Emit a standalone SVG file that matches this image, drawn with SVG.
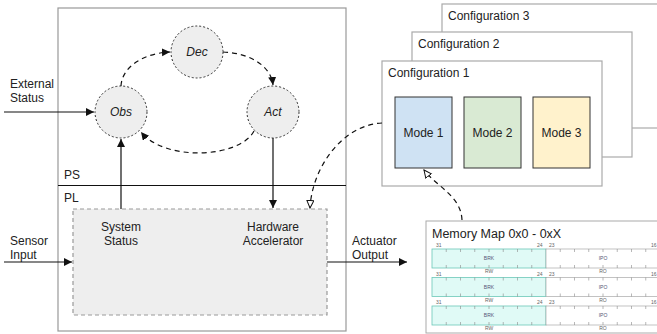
<svg xmlns="http://www.w3.org/2000/svg" width="657" height="334" viewBox="0 0 657 334">
<defs>
<style>
text{font-family:"Liberation Sans",Arial,sans-serif;font-size:12px;fill:#222}
.it{font-style:italic}
.mid{text-anchor:middle}
.frame{fill:#fff;stroke:#999;stroke-width:1.2}
.cfg{fill:#fff;stroke:#aaa;stroke-width:1.2}
.mode{stroke:#333;stroke-width:1}
.circ{fill:#eee;stroke:#333;stroke-width:1;stroke-dasharray:2 2}
.solid{fill:none;stroke:#111;stroke-width:1.2}
.dash{fill:none;stroke:#111;stroke-width:1.2;stroke-dasharray:5 4}
.tiny{font-size:5px;fill:#666}
.fld{font-size:5px;fill:#557}
.tick{stroke:#888;stroke-width:0.6}
</style>
<marker id="af" markerUnits="userSpaceOnUse" markerWidth="10" markerHeight="10" refX="8" refY="4" orient="auto"><path d="M0,0 L8,4 L0,8 z" fill="#111"/></marker>
<marker id="ao" markerUnits="userSpaceOnUse" markerWidth="10" markerHeight="10" refX="8" refY="4" orient="auto"><path d="M0.5,0.5 L8,4 L0.5,7.5 z" fill="#fff" stroke="#111" stroke-width="1"/></marker>
</defs>

<g id="main-frame">
<rect class="frame" x="58" y="8" width="288" height="323"/>
<line x1="58" y1="185.5" x2="346" y2="185.5" stroke="#111" stroke-width="1.2"/>
<text x="64" y="179">PS</text>
<text x="64" y="202">PL</text>
</g>

<g id="pl-block">
<rect x="73" y="209" width="254" height="106" fill="#eee" stroke="#999" stroke-width="1.2" stroke-dasharray="4 3"/>
<text class="mid" x="121" y="231">System</text>
<text class="mid" x="121" y="245">Status</text>
<text class="mid" x="273" y="231">Hardware</text>
<text class="mid" x="273" y="245">Accelerator</text>
</g>

<g id="cfg3"><rect class="cfg" x="442" y="4" width="220" height="124"/><text x="448" y="20">Configuration 3</text></g>
<g id="cfg2"><rect class="cfg" x="412" y="32" width="220" height="125"/><text x="418" y="48">Configuration 2</text></g>
<g id="cfg1"><rect class="cfg" x="382" y="61" width="220" height="125"/><text x="388" y="77">Configuration 1</text></g>
<g id="mode1"><rect class="mode" x="395" y="97" width="57" height="71" fill="#cfe2f3"/><text class="mid" x="423.5" y="137">Mode 1</text></g>
<g id="mode2"><rect class="mode" x="464" y="97" width="57" height="71" fill="#d9ead3"/><text class="mid" x="492.5" y="137">Mode 2</text></g>
<g id="mode3"><rect class="mode" x="533" y="97" width="57" height="71" fill="#fff2cc"/><text class="mid" x="561.5" y="137">Mode 3</text></g>

<g id="obs"><circle class="circ" cx="121" cy="112" r="26"/><text class="mid it" x="121" y="116">Obs</text></g>
<g id="dec"><circle class="circ" cx="197" cy="52" r="26"/><text class="mid it" x="197" y="56">Dec</text></g>
<g id="act"><circle class="circ" cx="273" cy="112" r="26"/><text class="mid it" x="273" y="116">Act</text></g>

<g id="labels">
<text x="10" y="88">External</text>
<text x="10" y="102">Status</text>
<text x="10" y="245">Sensor</text>
<text x="10" y="259">Input</text>
<text x="352" y="245">Actuator</text>
<text x="352" y="259">Output</text>
</g>

<g id="memory-map">
<rect x="426" y="221" width="240" height="112" fill="#fff" stroke="#aaa" stroke-width="1"/>
<text x="432" y="238" style="font-size:12.5px">Memory Map 0x0 - 0xX</text>
<g id="reg1" transform="translate(0,0)">
<text class="tiny" x="436" y="247">31</text><text class="tiny" x="537" y="247">24</text><text class="tiny" x="549" y="247">23</text><text class="tiny" x="651" y="247">16</text>
<rect x="432" y="249" width="114" height="19" fill="#e0faf6" stroke="#6cc7b8" stroke-width="0.8"/>
<rect x="546" y="249" width="114" height="19" fill="#fff" stroke="#999" stroke-width="0.6"/>
<path class="tick" d="M446.25,249v3M460.5,249v3M474.75,249v3M489,249v3M503.25,249v3M517.5,249v3M531.75,249v3M560.25,249v3M574.5,249v3M588.75,249v3M603,249v3M617.25,249v3M631.5,249v3M645.75,249v3M446.25,268v-3M460.5,268v-3M474.75,268v-3M489,268v-3M503.25,268v-3M517.5,268v-3M531.75,268v-3M560.25,268v-3M574.5,268v-3M588.75,268v-3M603,268v-3M617.25,268v-3M631.5,268v-3M645.75,268v-3"/>
<text class="fld mid" x="489" y="260">BRK</text><text class="fld mid" x="603" y="260">IPO</text>
<text class="tiny mid" x="489" y="273">RW</text><text class="tiny mid" x="603" y="273">RO</text>
</g>
<g id="reg2" transform="translate(0,28.5)">
<text class="tiny" x="436" y="247">31</text><text class="tiny" x="537" y="247">24</text><text class="tiny" x="549" y="247">23</text><text class="tiny" x="651" y="247">16</text>
<rect x="432" y="249" width="114" height="19" fill="#e0faf6" stroke="#6cc7b8" stroke-width="0.8"/>
<rect x="546" y="249" width="114" height="19" fill="#fff" stroke="#999" stroke-width="0.6"/>
<path class="tick" d="M446.25,249v3M460.5,249v3M474.75,249v3M489,249v3M503.25,249v3M517.5,249v3M531.75,249v3M560.25,249v3M574.5,249v3M588.75,249v3M603,249v3M617.25,249v3M631.5,249v3M645.75,249v3M446.25,268v-3M460.5,268v-3M474.75,268v-3M489,268v-3M503.25,268v-3M517.5,268v-3M531.75,268v-3M560.25,268v-3M574.5,268v-3M588.75,268v-3M603,268v-3M617.25,268v-3M631.5,268v-3M645.75,268v-3"/>
<text class="fld mid" x="489" y="260">BRK</text><text class="fld mid" x="603" y="260">IPO</text>
<text class="tiny mid" x="489" y="273">RW</text><text class="tiny mid" x="603" y="273">RO</text>
</g>
<g id="reg3" transform="translate(0,57)">
<text class="tiny" x="436" y="247">31</text><text class="tiny" x="537" y="247">24</text><text class="tiny" x="549" y="247">23</text><text class="tiny" x="651" y="247">16</text>
<rect x="432" y="249" width="114" height="19" fill="#e0faf6" stroke="#6cc7b8" stroke-width="0.8"/>
<rect x="546" y="249" width="114" height="19" fill="#fff" stroke="#999" stroke-width="0.6"/>
<path class="tick" d="M446.25,249v3M460.5,249v3M474.75,249v3M489,249v3M503.25,249v3M517.5,249v3M531.75,249v3M560.25,249v3M574.5,249v3M588.75,249v3M603,249v3M617.25,249v3M631.5,249v3M645.75,249v3M446.25,268v-3M460.5,268v-3M474.75,268v-3M489,268v-3M503.25,268v-3M517.5,268v-3M531.75,268v-3M560.25,268v-3M574.5,268v-3M588.75,268v-3M603,268v-3M617.25,268v-3M631.5,268v-3M645.75,268v-3"/>
<text class="fld mid" x="489" y="260">BRK</text><text class="fld mid" x="603" y="260">IPO</text>
<text class="tiny mid" x="489" y="273">RW</text><text class="tiny mid" x="603" y="273">RO</text>
</g>
</g>

<g id="connectors">
<path class="dash" d="M121,86 C122,66 145,53 170,52" marker-end="url(#af)"/>
<path class="dash" d="M223,52 C250,53 271,66 273,85" marker-end="url(#af)"/>
<path class="dash" d="M254,131 C240,158 165,162 141,132" marker-end="url(#af)"/>
<path class="solid" d="M4,112 H94" marker-end="url(#af)"/>
<path class="solid" d="M121,209 V139" marker-end="url(#af)"/>
<path class="solid" d="M273,138 V208" marker-end="url(#af)"/>
<path class="solid" d="M4,262 H72" marker-end="url(#af)"/>
<path class="solid" d="M327,262 H407" marker-end="url(#af)"/>
<path class="dash" d="M382,123 C342,125 312,168 310,208" marker-end="url(#ao)"/>
<path class="dash" d="M462,220 C461,196 437,187 424,170" marker-end="url(#ao)"/>
</g>
</svg>
